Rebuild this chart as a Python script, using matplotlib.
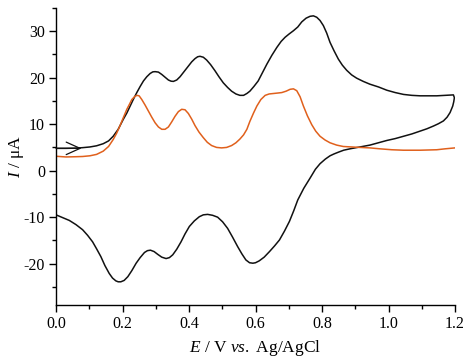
import matplotlib
matplotlib.use("Agg")
import matplotlib.pyplot as plt
from matplotlib.ticker import MultipleLocator

# cyclic voltammogram, black: forward sweep then reverse sweep
black_E = [0.000, 0.030, 0.060, 0.080, 0.102, 0.122, 0.142, 0.158, 0.172, 0.187, 0.202, 0.213,
           0.223, 0.233, 0.243, 0.253, 0.263, 0.273, 0.283, 0.291, 0.298, 0.308, 0.318, 0.328,
           0.338, 0.346, 0.353, 0.363, 0.373, 0.385, 0.398, 0.408, 0.418, 0.426, 0.433, 0.443,
           0.453, 0.465, 0.478, 0.490, 0.503, 0.516, 0.528, 0.541, 0.553, 0.564, 0.574, 0.583,
           0.595, 0.608, 0.621, 0.634, 0.649, 0.664, 0.677, 0.689, 0.701, 0.714, 0.727, 0.739,
           0.752, 0.764, 0.774, 0.784, 0.794, 0.804, 0.814, 0.824, 0.836, 0.849, 0.861, 0.874,
           0.889, 0.904, 0.924, 0.944, 0.970, 0.995, 1.020, 1.045, 1.070, 1.095, 1.120, 1.145,
           1.170, 1.195,
           1.198, 1.196, 1.193, 1.185, 1.176, 1.165, 1.150, 1.135, 1.115, 1.095, 1.070, 1.045,
           1.020, 0.995, 0.970, 0.944, 0.914, 0.884, 0.865, 0.850, 0.836, 0.824, 0.810, 0.794,
           0.780, 0.764, 0.745, 0.727, 0.715, 0.702, 0.687, 0.672, 0.657, 0.642, 0.626, 0.611,
           0.600, 0.592, 0.582, 0.571, 0.559, 0.546, 0.531, 0.516, 0.501, 0.486, 0.471, 0.456,
           0.443, 0.431, 0.416, 0.401, 0.388, 0.376, 0.363, 0.351, 0.341, 0.331, 0.318, 0.306,
           0.295, 0.284, 0.275, 0.266, 0.253, 0.241, 0.228, 0.216, 0.205, 0.195, 0.187, 0.180,
           0.170, 0.160, 0.147, 0.135, 0.122, 0.110, 0.095, 0.080, 0.060, 0.040, 0.020, 0.000]
black_I = [4.8, 4.8, 4.85, 4.95, 5.1, 5.35, 5.8, 6.4, 7.4, 8.9, 11.0, 12.4,
           13.9, 15.4, 16.8, 18.1, 19.3, 20.2, 20.9, 21.25, 21.3, 21.2, 20.7, 20.1,
           19.5, 19.25, 19.2, 19.5, 20.2, 21.3, 22.5, 23.4, 24.1, 24.5, 24.6, 24.4,
           23.8, 22.8, 21.5, 20.2, 18.9, 17.9, 17.1, 16.5, 16.2, 16.2, 16.6, 17.1,
           18.1, 19.3, 21.1, 22.9, 24.8, 26.5, 27.8, 28.7, 29.4, 30.1, 30.9, 32.0,
           32.8, 33.2, 33.3, 33.0, 32.3, 31.2, 29.6, 27.6, 25.8, 24.0, 22.7, 21.6,
           20.6, 19.9, 19.2, 18.6, 18.0, 17.3, 16.8, 16.4, 16.2, 16.1, 16.1, 16.1,
           16.2, 16.3,
           15.7, 14.8, 13.9, 12.5, 11.5, 10.7, 10.1, 9.6, 9.0, 8.5, 7.9, 7.4,
           6.9, 6.5, 6.0, 5.5, 5.1, 4.7, 4.4, 4.0, 3.6, 3.2, 2.5, 1.5,
           0.3, -1.6, -3.8, -6.3, -8.6, -10.9, -13.0, -14.9, -16.2, -17.4, -18.6, -19.4,
           -19.8, -19.9, -19.8, -19.2, -17.9, -16.3, -14.3, -12.4, -11.0, -10.0, -9.6, -9.4,
           -9.5, -9.9, -10.8, -12.0, -13.6, -15.3, -16.9, -18.1, -18.7, -18.9, -18.6, -18.0,
           -17.4, -17.1, -17.2, -17.6, -18.7, -19.9, -21.5, -22.8, -23.6, -23.9, -23.9, -23.7,
           -23.1, -22.1, -20.4, -18.5, -16.8, -15.3, -13.9, -12.7, -11.6, -10.7, -10.1, -9.5]

# orange trace
orange_E = [0.000, 0.030, 0.060, 0.080, 0.102, 0.122, 0.142, 0.158, 0.172, 0.182, 0.192,
            0.203, 0.213, 0.221, 0.228, 0.236, 0.243, 0.250, 0.258, 0.268, 0.278, 0.288,
            0.298, 0.308, 0.318, 0.328, 0.338, 0.348, 0.358, 0.368, 0.378, 0.388, 0.398,
            0.408, 0.418, 0.430, 0.443, 0.455, 0.468, 0.483, 0.498, 0.513, 0.528, 0.541,
            0.553, 0.564, 0.574, 0.583, 0.594, 0.604, 0.616, 0.629, 0.641, 0.654, 0.667,
            0.679, 0.692, 0.704, 0.714, 0.724, 0.734, 0.744, 0.756, 0.769, 0.781, 0.794,
            0.809, 0.824, 0.844, 0.864, 0.889, 0.914, 0.944, 0.974, 1.010, 1.045, 1.095,
            1.145, 1.170, 1.200]
orange_I = [3.1, 2.95, 3.0, 3.05, 3.2, 3.5, 4.2, 5.2, 6.7, 8.0, 9.6,
            11.5, 13.2, 14.3, 15.3, 15.9, 16.2, 16.1, 15.3, 14.1, 12.8, 11.5,
            10.3, 9.4, 8.9, 8.9, 9.4, 10.5, 11.7, 12.7, 13.2, 13.1, 12.3,
            11.1, 9.7, 8.3, 7.1, 6.1, 5.4, 5.0, 4.9, 5.0, 5.4, 6.0,
            6.8, 7.7, 8.9, 10.6, 12.4, 13.9, 15.3, 16.2, 16.5, 16.6, 16.7,
            16.8, 17.1, 17.5, 17.6, 17.2, 15.9, 13.9, 11.8, 9.9, 8.5, 7.4,
            6.6, 6.0, 5.5, 5.2, 5.1, 5.0, 4.9, 4.7, 4.5, 4.4, 4.4,
            4.5, 4.7, 4.9]

plt.rcParams["font.family"] = ["Liberation Serif", "DejaVu Serif"]
plt.rcParams["mathtext.fontset"] = "custom"
plt.rcParams["mathtext.rm"] = "Liberation Serif"
plt.rcParams["mathtext.it"] = "Liberation Serif:italic"
plt.rcParams["axes.unicode_minus"] = False

fig = plt.figure(figsize=(4.77, 3.61), dpi=100)
ax = fig.add_axes([0.1174, 0.155, 0.954 - 0.1174, 0.978 - 0.155])

ax.plot(black_E, black_I, color="#111111", lw=1.1, solid_joinstyle="round")
ax.plot(orange_E, orange_I, color="#e0601c", lw=1.1, solid_joinstyle="round")

ax.annotate("", xy=(0.077, 4.8), xytext=(0.0, 4.8),
            arrowprops=dict(arrowstyle="->,head_length=1.0,head_width=0.45",
                            mutation_scale=10, color="#111111", lw=0.9,
                            shrinkA=0, shrinkB=0))

ax.set_xlim(0.0, 1.2)
ax.set_ylim(-28.9, 35.0)
ax.xaxis.set_major_locator(MultipleLocator(0.2))
ax.xaxis.set_minor_locator(MultipleLocator(0.1))
ax.yaxis.set_major_locator(MultipleLocator(10))
ax.yaxis.set_minor_locator(MultipleLocator(5))
ax.xaxis.set_major_formatter(plt.FuncFormatter(lambda v, p: f"{v:.1f}"))

for side in ("top", "right"):
    ax.spines[side].set_visible(False)
for side in ("left", "bottom"):
    ax.spines[side].set_linewidth(1.0)

ax.tick_params(which="major", direction="out", length=5, width=1.0, labelsize=11.5, pad=3)
ax.tick_params(which="minor", direction="out", length=3, width=1.0)

ax.set_xlabel(r"$E$ / V $vs.$ Ag/AgCl", fontsize=12.5, labelpad=4)
ax.set_ylabel(r"$I$ / μA", fontsize=12.5, labelpad=-2)

fig.savefig("out.png", dpi=100)
